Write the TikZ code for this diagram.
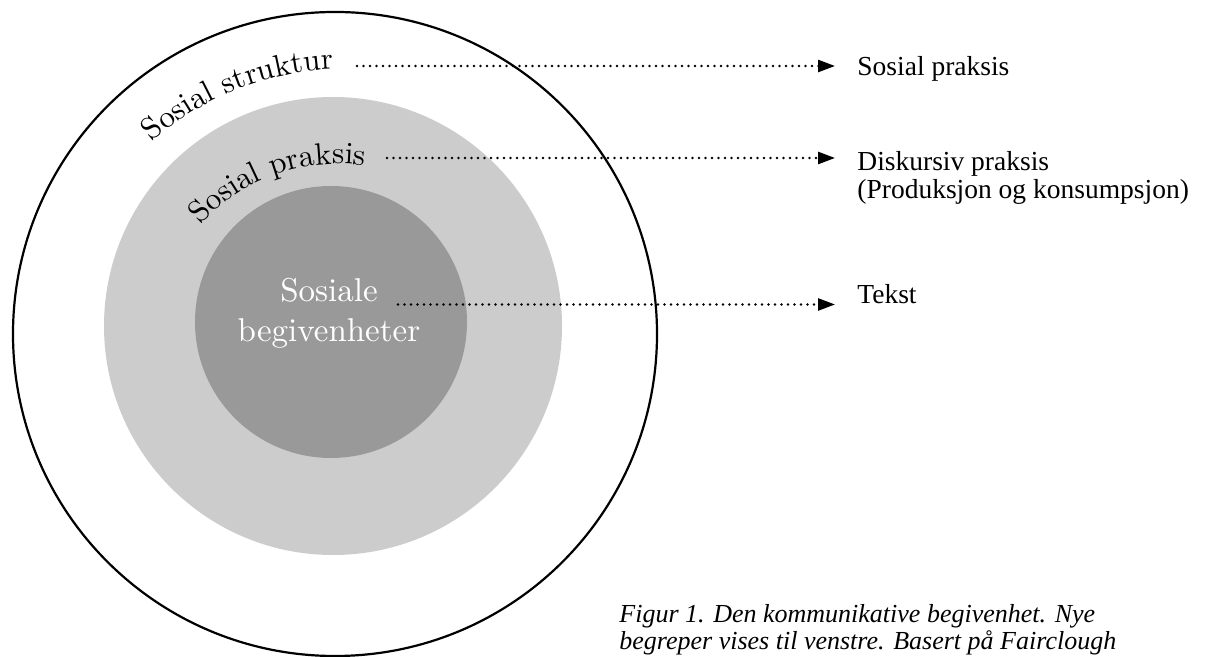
\documentclass[tikz,border=0pt]{standalone}
\usepackage{fontspec}
\newfontfamily\timesfont{Liberation Serif}
\newfontfamily\lmten{lmroman10-regular.otf}
\usetikzlibrary{arrows.meta,decorations.text}
\newcommand\arcfont{\lmten\fontsize{15.5}{18}\selectfont}
\definecolor{ringlight}{RGB}{204,204,204}
\definecolor{ringdark}{RGB}{153,153,153}
\tikzset{
  conn/.style={line width=1.3pt, line cap=round, dash pattern=on 0pt off 3.25pt,
    -{Triangle[length=8.5pt,width=6pt]}, shorten >=11pt},
  righttext/.style={inner sep=0pt, anchor=base west, font=\timesfont\fontsize{13.75}{14}\selectfont},
  arctext/.style={decorate, decoration={text along path, text align=left, text={|\arcfont|#1}}}
}
\begin{document}
\begin{tikzpicture}[x=0.5pt,y=0.5pt]
\useasboundingbox (0,0) rectangle (1218,657);
\fill[white] (0,0) rectangle (1218,657);
% circles
\draw[line width=1.1pt] (335,323) circle[radius=322];
\fill[ringlight] (333,331) circle[radius=229];
\fill[ringdark] (331,335) circle[radius=136];
% curved labels
\path[arctext={Sosial struktur}] (151.9,515) arc[start angle=131.4, end angle=70, radius=292];
\path[arctext={Sosial praksis}] (200.2,432) arc[start angle=137.8, end angle=60, radius=186];
% inner label
\node[inner sep=0pt, anchor=base, text=white, font=\lmten\fontsize{16.5}{20}\selectfont] (ev) at (329,355)
  {\begin{tabular}[t]{@{}c@{}}Sosiale\\ begivenheter\end{tabular}};
% right labels
\node[righttext] (t1) at (857,581) {Sosial praksis};
\node[righttext] (t2) at (857,486.5) {\begin{tabular}[t]{@{}l@{}}Diskursiv praksis\\ (Produksjon og konsumpsjon)\end{tabular}};
\node[righttext] (t3) at (857,353.5) {Tekst};
% connector starts
\coordinate (s1) at (357,591);
\coordinate (s2) at (387,499);
\coordinate (s3) at (398,352.5);
\draw[conn] (s1) -- (s1 -| t1.west);
\draw[conn] (s2) -- (s2 -| t2.west);
\draw[conn] (s3) -- (s3 -| t3.west);
% caption
\node[inner sep=0pt, anchor=base west, font=\timesfont\itshape\fontsize{13}{13.5}\selectfont] (cap) at (619,34)
  {\begin{tabular}[t]{@{}l@{}}Figur 1. Den kommunikative begivenhet. Nye\\ begreper vises til venstre. Basert på Fairclough\end{tabular}};
\end{tikzpicture}
\end{document}
